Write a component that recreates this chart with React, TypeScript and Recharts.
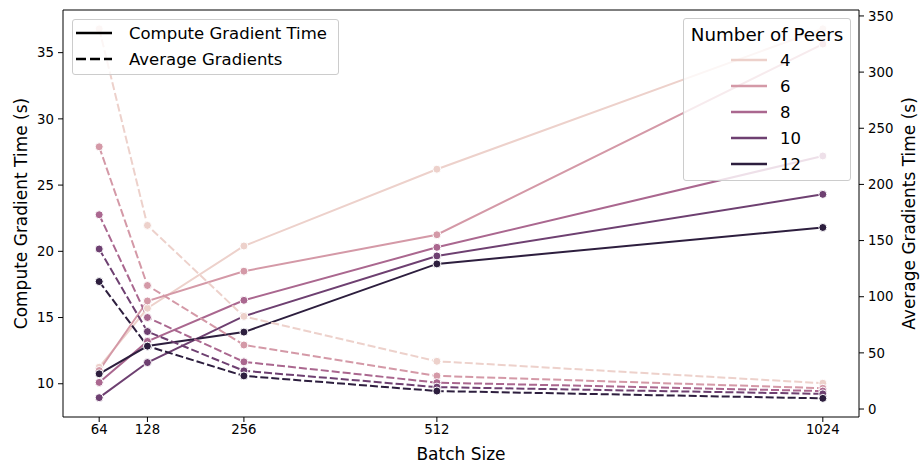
import React from "react";
import {
  LineChart,
  Line,
  XAxis,
  YAxis,
  ReferenceLine,
} from "recharts";

const batchSizes = [64, 128, 256, 512, 1024];
const peerCounts = [4, 6, 8, 10, 12];
const peerColors = ["#edd1cb", "#d499a7", "#aa678f", "#6e4071", "#2d1e3e"];

// compute gradient time (s), left axis
const compute4 = [11.25, 15.7, 20.4, 26.2, 36.8];
const compute6 = [11.0, 16.25, 18.5, 21.25, 35.65];
const compute8 = [10.1, 13.2, 16.3, 20.3, 27.2];
const compute10 = [8.95, 11.6, 15.1, 19.65, 24.3];
const compute12 = [10.75, 12.85, 13.9, 19.05, 21.8];

// average gradients time (s), right axis
const avg4 = [338.5, 163.5, 82.5, 42.5, 23];
const avg6 = [233.5, 110, 57, 29.5, 18.5];
const avg8 = [173, 81.5, 42, 23.5, 16];
const avg10 = [142.5, 69, 34, 19.5, 13.5];
const avg12 = [113.5, 56, 29.5, 16, 9.5];

const leftTicks = [10, 15, 20, 25, 30, 35];
const rightTicks = [0, 50, 100, 150, 200, 250, 300, 350];

const xDomain = [16, 1072];
const leftDomain = [7.49, 38.22];
const rightDomain = [-7.1, 355.3];

const computeSeries = [compute4, compute6, compute8, compute10, compute12];
const avgSeries = [avg4, avg6, avg8, avg10, avg12];

const data = batchSizes.map((b, i) => {
  const row: Record<string, number> = { batch: b };
  peerCounts.forEach((p, j) => {
    row[`compute${p}`] = computeSeries[j][i];
    row[`avg${p}`] = avgSeries[j][i];
  });
  return row;
});

const FONT = "'DejaVu Sans', sans-serif";
const tickStyle = { fill: "#000", fontSize: 13.3, fontFamily: FONT };

const AxisTitle = (props: any) => {
  const { viewBox, text, kind } = props;
  if (!viewBox) return null;
  const { x, y, width, height } = viewBox;
  if (kind === "x") {
    return (
      <text
        x={x + width / 2}
        y={454}
        textAnchor="middle"
        dominantBaseline="central"
        fontSize={17}
        fontFamily={FONT}
        fill="#000"
      >
        {text}
      </text>
    );
  }
  const cx = kind === "left" ? x + 21 : x + width - 13;
  const cy = y + height / 2;
  return (
    <text
      x={cx}
      y={cy}
      transform={`rotate(-90, ${cx}, ${cy})`}
      textAnchor="middle"
      dominantBaseline="central"
      fontSize={17}
      fontFamily={FONT}
      fill="#000"
    >
      {text}
    </text>
  );
};

const legendBox: React.CSSProperties = {
  position: "absolute",
  boxSizing: "border-box",
  border: "1px solid #cccccc",
  borderRadius: 3,
  background: "rgba(255,255,255,0.8)",
  fontFamily: FONT,
  color: "#000",
};

export default function App() {
  return (
    <div style={{ position: "relative", width: 922, height: 466, background: "#fff" }}>
      <style>{"body{margin:0}"}</style>
      <LineChart
        width={922}
        height={466}
        data={data}
        margin={{ top: 10, right: 0, bottom: 0, left: 0 }}
      >
        <XAxis
          xAxisId="x"
          dataKey="batch"
          type="number"
          domain={xDomain}
          ticks={batchSizes}
          height={49}
          stroke="#000"
          tickSize={5}
          tickMargin={3}
          tick={tickStyle}
          label={{ content: (p: any) => <AxisTitle {...p} text="Batch Size" kind="x" /> }}
        />
        <YAxis
          yAxisId="left"
          type="number"
          domain={leftDomain}
          ticks={leftTicks}
          width={63}
          stroke="#000"
          tickSize={5}
          tickMargin={4}
          tick={tickStyle}
          label={{ content: (p: any) => <AxisTitle {...p} text="Compute Gradient Time (s)" kind="left" /> }}
        />
        <YAxis
          yAxisId="right"
          orientation="right"
          type="number"
          domain={rightDomain}
          ticks={rightTicks}
          width={63}
          stroke="#000"
          tickSize={5}
          tickMargin={4}
          tick={tickStyle}
          label={{ content: (p: any) => <AxisTitle {...p} text="Average Gradients Time (s)" kind="right" /> }}
        />
        {/* top frame edge */}
        <ReferenceLine xAxisId="x" yAxisId="left" y={leftDomain[1]} stroke="#000" strokeWidth={1} />
        {peerCounts.map((p, j) => (
          <Line
            key={`c${p}`}
            xAxisId="x"
            yAxisId="left"
            dataKey={`compute${p}`}
            stroke={peerColors[j]}
            strokeWidth={2}
            dot={{ r: 4, fill: peerColors[j], stroke: "#fff", strokeWidth: 1 }}
            activeDot={false}
            isAnimationActive={false}
          />
        ))}
        {peerCounts.map((p, j) => (
          <Line
            key={`a${p}`}
            xAxisId="x"
            yAxisId="right"
            dataKey={`avg${p}`}
            stroke={peerColors[j]}
            strokeWidth={2}
            strokeDasharray="8 3"
            dot={{ r: 4, fill: peerColors[j], stroke: "#fff", strokeWidth: 1, strokeDasharray: "0" }}
            activeDot={false}
            isAnimationActive={false}
          />
        ))}
      </LineChart>

      <div style={{ ...legendBox, left: 72, top: 19, width: 267, height: 56 }}>
        {[
          { label: "Compute Gradient Time", dash: undefined },
          { label: "Average Gradients", dash: "10 4" },
        ].map((e) => (
          <div key={e.label} style={{ height: 26, display: "flex", alignItems: "center", fontSize: 16.5 }}>
            <svg width={36} height={6} style={{ marginLeft: 3, marginRight: 17, flexShrink: 0 }}>
              <line x1={0} y1={3} x2={36} y2={3} stroke="#000" strokeWidth={2.6} strokeDasharray={e.dash} />
            </svg>
            <span>{e.label}</span>
          </div>
        ))}
      </div>

      <div style={{ ...legendBox, left: 683, top: 18, width: 168, height: 163, paddingTop: 4 }}>
        <div style={{ height: 24, lineHeight: "24px", textAlign: "center", fontSize: 18.3 }}>Number of Peers</div>
        {peerCounts.map((p, j) => (
          <div key={p} style={{ height: 26, display: "flex", alignItems: "center", fontSize: 16.5 }}>
            <svg width={36} height={6} style={{ marginLeft: 47, marginRight: 13, flexShrink: 0 }}>
              <line x1={0} y1={3} x2={36} y2={3} stroke={peerColors[j]} strokeWidth={2.6} />
            </svg>
            <span>{p}</span>
          </div>
        ))}
      </div>
    </div>
  );
}
